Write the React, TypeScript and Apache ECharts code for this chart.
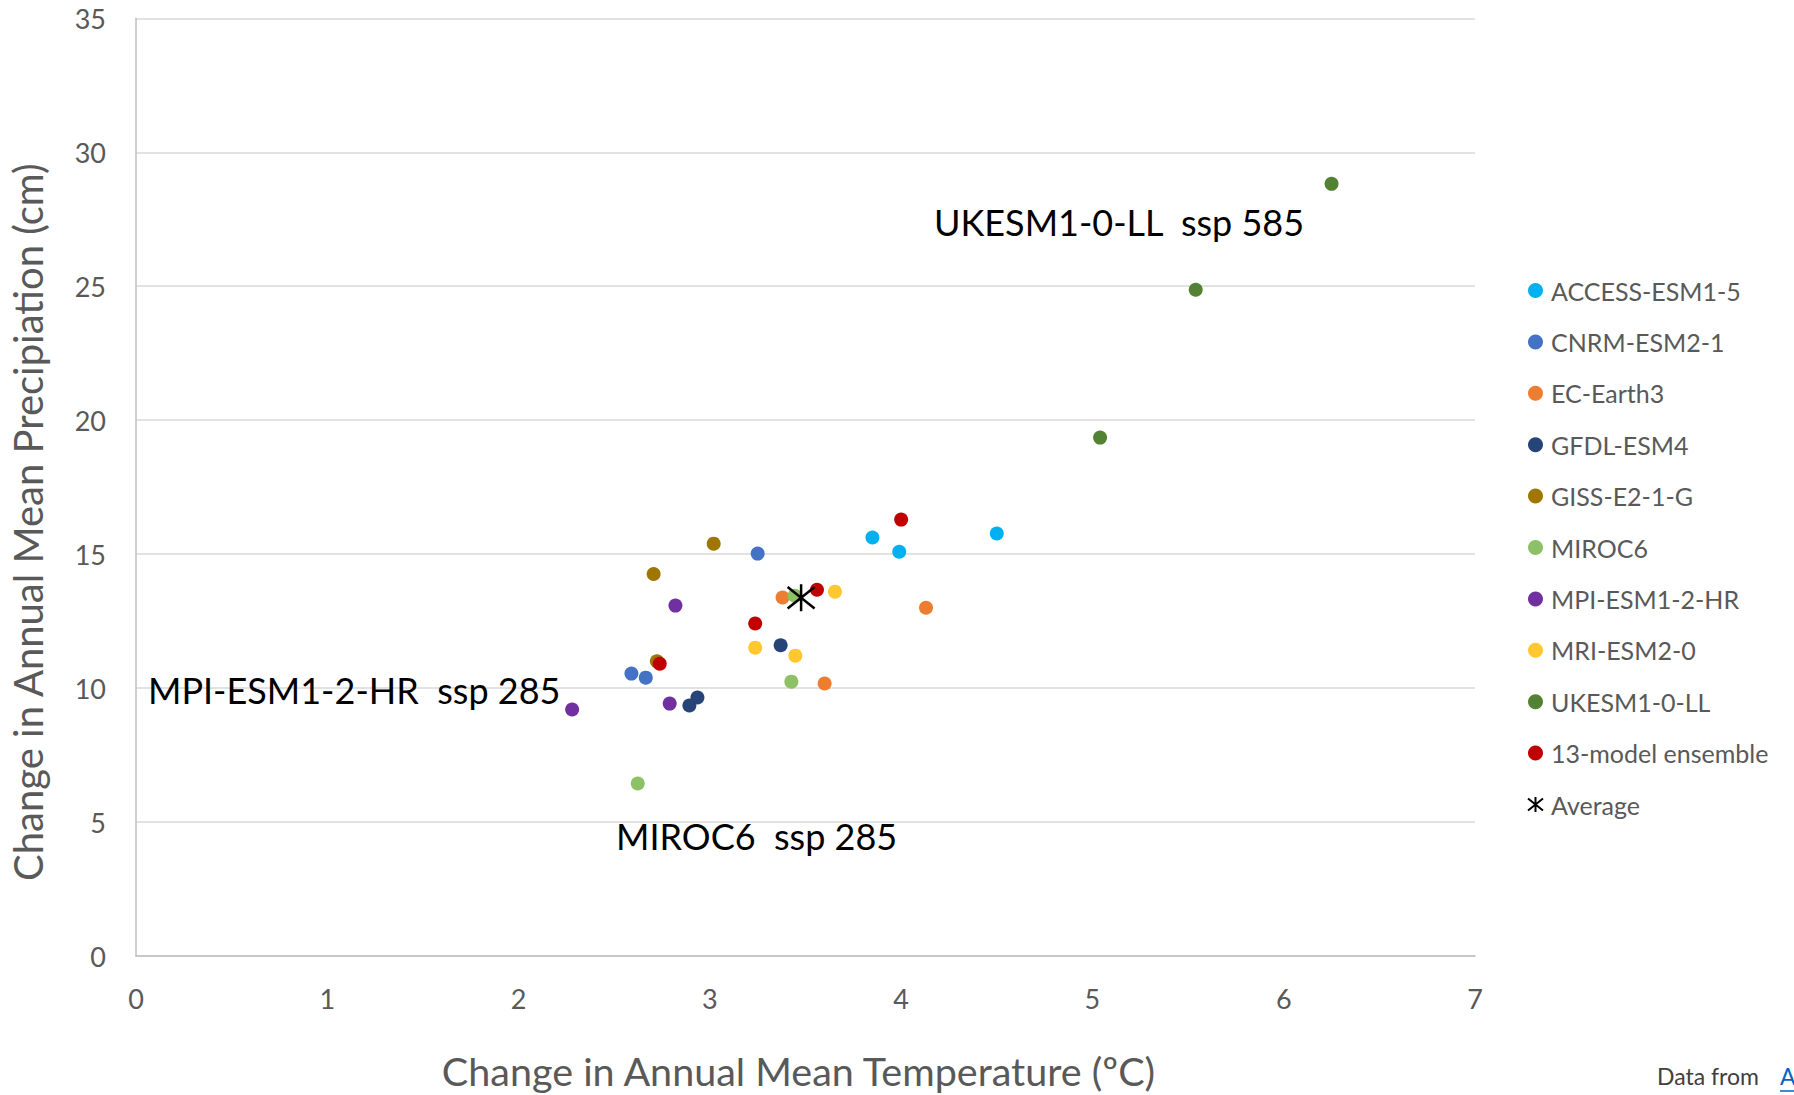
import React, { useEffect, useRef } from "react";
import * as echarts from "echarts";

const seriesNames = [
  "ACCESS-ESM1-5",
  "CNRM-ESM2-1",
  "EC-Earth3",
  "GFDL-ESM4",
  "GISS-E2-1-G",
  "MIROC6",
  "MPI-ESM1-2-HR",
  "MRI-ESM2-0",
  "UKESM1-0-LL",
  "13-model ensemble",
  "Average",
];

const seriesColors = [
  "#00B0F0",
  "#4472C4",
  "#ED7D31",
  "#264478",
  "#9E7600",
  "#8CC168",
  "#7030A0",
  "#FFC832",
  "#548235",
  "#C00000",
  "#000000",
];

// [temperature change (°C), precipitation change (cm)]
const accessData = [[3.85, 15.62], [3.99, 15.09], [4.5, 15.77]];
const cnrmData = [[3.25, 15.02], [2.59, 10.54], [2.665, 10.39]];
const ecEarthData = [[3.38, 13.38], [4.13, 13.0], [3.6, 10.17]];
const gfdlData = [[3.37, 11.6], [2.935, 9.65], [2.893, 9.35]];
const gissData = [[3.02, 15.39], [2.706, 14.26], [2.723, 11.0]];
const mirocData = [[2.623, 6.44], [3.426, 10.24], [3.443, 13.45]];
const mpiData = [[2.82, 13.08], [2.79, 9.42], [2.28, 9.2]];
const mriData = [[3.654, 13.6], [3.237, 11.51], [3.447, 11.21]];
const ukesmData = [[6.25, 28.82], [5.54, 24.87], [5.04, 19.35]];
const ensembleData = [[4.0, 16.29], [3.56, 13.67], [3.237, 12.41], [2.738, 10.91]];
const averageData = [[3.477, 13.37]];

const allData = [
  accessData,
  cnrmData,
  ecEarthData,
  gfdlData,
  gissData,
  mirocData,
  mpiData,
  mriData,
  ukesmData,
  ensembleData,
  averageData,
];

const xTicks = [0, 1, 2, 3, 4, 5, 6, 7];
const yTicks = [0, 5, 10, 15, 20, 25, 30, 35];

const annotations = [
  { text: "UKESM1-0-LL  ssp 585", x: 934, y: 225 },
  { text: "MPI-ESM1-2-HR  ssp 285", x: 148, y: 693 },
  { text: "MIROC6  ssp 285", x: 616, y: 839 },
];

const FONT = "Lato, 'Open Sans', sans-serif";
const STAR = "path://M10,0 L10,20 M0,2 L20,18 M0,18 L20,2";

export default function App() {
  const ref = useRef<HTMLDivElement>(null);

  useEffect(() => {
    if (!ref.current) return;
    const chart = echarts.init(ref.current, undefined, { renderer: "svg" });

    const series = seriesNames.map((name, i) => {
      const isAvg = name === "Average";
      return {
        name,
        type: "scatter",
        data: allData[i],
        symbol: isAvg ? STAR : "circle",
        symbolSize: isAvg ? 27 : 14,
        itemStyle: isAvg
          ? { color: "rgba(0,0,0,0)", borderColor: "#000", borderWidth: 2.5, opacity: 1 }
          : { color: seriesColors[i], opacity: 1 },
        z: isAvg ? 5 : 3,
      };
    });

    chart.setOption({
      animation: false,
      backgroundColor: "#fff",
      textStyle: { fontFamily: FONT },
      grid: { left: 132.7, right: 319, top: 18.3, bottom: 138.5, containLabel: false },
      xAxis: {
        type: "value",
        min: xTicks[0],
        max: xTicks[xTicks.length - 1],
        interval: 1,
        name: "Change in Annual Mean Temperature (ºC)",
        nameLocation: "middle",
        nameGap: 94,
        nameTextStyle: {
          fontSize: 39.5,
          color: "#595959",
          fontFamily: FONT,
          padding: [0, 14, 0, 0],
        },
        axisLine: { show: true, lineStyle: { color: "#BFBFBF", width: 1.5 } },
        axisTick: { show: false },
        axisLabel: { fontSize: 27, color: "#595959", margin: 29, fontFamily: FONT },
        splitLine: { show: false },
      },
      yAxis: {
        type: "value",
        min: yTicks[0],
        max: yTicks[yTicks.length - 1],
        interval: 5,
        name: "Change in Annual Mean Precipiation (cm)",
        nameLocation: "middle",
        nameGap: 88,
        nameTextStyle: {
          fontSize: 40,
          color: "#595959",
          fontFamily: FONT,
          padding: [0, 70, 0, 0],
        },
        axisLine: { show: true, lineStyle: { color: "#BFBFBF", width: 1.5 } },
        axisTick: { show: false },
        axisLabel: { fontSize: 27, color: "#595959", margin: 30, fontFamily: FONT },
        splitLine: { show: true, lineStyle: { color: "#D9D9D9", width: 1.5 } },
      },
      legend: {
        orient: "vertical",
        left: 1522,
        top: 273,
        itemWidth: 15,
        itemHeight: 15,
        itemGap: 26.4,
        textStyle: {
          fontSize: 25,
          color: "#595959",
          fontFamily: FONT,
          lineHeight: 24.5,
          padding: [0, 0, 0, 3],
        },
        data: seriesNames.map((n) => ({ name: n })),
      },
      graphic: [
        ...annotations.map((a) => ({
          type: "text",
          left: a.x,
          top: a.y - 21,
          style: { text: a.text, fontSize: 36, fill: "#000", fontFamily: FONT },
          z: 10,
        })),
        {
          type: "text",
          left: 1657,
          top: 1064,
          style: { text: "Data from ", fontSize: 23, fill: "#404040", fontFamily: FONT },
        },
        {
          type: "text",
          left: 1780,
          top: 1064,
          style: { text: "A", fontSize: 23, fill: "#0563C1", fontFamily: FONT },
        },
        {
          type: "line",
          shape: { x1: 1780, y1: 1091, x2: 1794, y2: 1091 },
          style: { stroke: "#0563C1", lineWidth: 1.5 },
        },
      ],
      series,
    });

    return () => chart.dispose();
  }, []);

  return (
    <div
      ref={ref}
      style={{ position: "fixed", left: 0, top: 0, width: 1794, height: 1095 }}
    />
  );
}
